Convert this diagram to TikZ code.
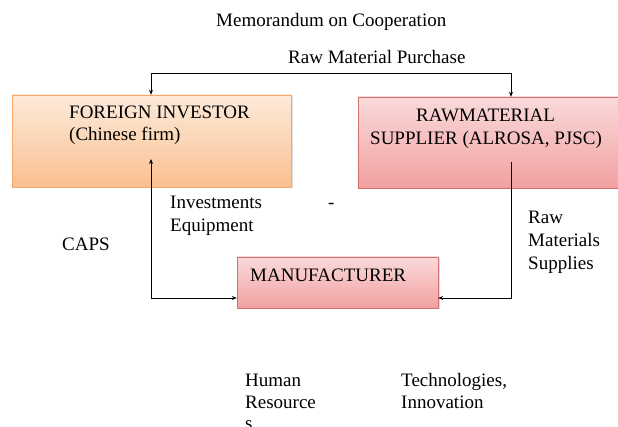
\documentclass[tikz,border=0pt]{standalone}
\usepackage{fontspec}
\setmainfont{Liberation Serif}
\usetikzlibrary{shadows,arrows.meta}
\definecolor{orbot}{HTML}{FAC090}
\definecolor{ortop}{HTML}{FDEADA}
\definecolor{orline}{HTML}{F9A86A}
\definecolor{pkbot}{HTML}{F2A0A0}
\definecolor{pktop}{HTML}{FADADA}
\definecolor{pkline}{HTML}{D07070}
\tikzset{
  txt/.style={anchor=base west, inner sep=0pt, font=\fontsize{19}{22}\selectfont},
  orbox/.style={draw=orline, line width=0.8pt, top color=ortop, bottom color=orbot, drop shadow={opacity=0.25, shadow xshift=1.5pt, shadow yshift=-1.5pt}},
  pkbox/.style={draw=pkline, line width=0.8pt, top color=pktop, bottom color=pkbot, drop shadow={opacity=0.25, shadow xshift=1.5pt, shadow yshift=-1.5pt}},
  conn/.style={draw=black, line width=0.8pt, -{Stealth[length=5pt,width=4pt]}},
  line/.style={draw=black, line width=0.8pt}
}
\begin{document}
\begin{tikzpicture}[x=1pt,y=-1pt]
\useasboundingbox (0,0) rectangle (618,427);
% boxes
\path[orbox] (12,95) rectangle (291,187);
\path[pkbox] (358,97) rectangle (625,188);
\path[pkbox] (237,257) rectangle (438,308);
\clip (0,0) rectangle (618,427);
\node (inv) [minimum width=279pt, minimum height=92pt, inner sep=0pt] at (151.5,141) {};
\node (sup) [minimum width=260pt, minimum height=91pt, inner sep=0pt] at (488,142.5) {};
\node (man) [minimum width=201pt, minimum height=51pt, inner sep=0pt] at (337.5,282.5) {};
% coordinates
\coordinate (tl) at (151,73);
\coordinate (tr) at (511,73);
\coordinate (invin) at (151,159);
\coordinate (lb) at (151,298);
\coordinate (supout) at (511,162);
\coordinate (rb) at (511,298);
% connectors
\draw[conn] (tl) -- (tr) -- (tr |- sup.north);
\draw[conn] (tr) -- (tl) -- (tl |- inv.north);
\draw[conn] (lb) -- (invin);
\draw[conn] (lb) -- (man.west |- lb);
\draw[conn] (supout) -- (rb) -- (man.east |- rb);
% texts
\node[txt] (t1) at (216,27) {Memorandum on Cooperation};
\node[txt] (t2) at (288,64) {Raw Material Purchase};
\node[txt] (t3) at (69,119) {FOREIGN INVESTOR};
\node[txt] (t4) at (69,141) {(Chinese firm)};
\node[txt] (t5) at (416,122) {RAWMATERIAL};
\node[txt] (t6) at (370,145) {SUPPLIER (ALROSA, PJSC)};
\node[txt] (t7) at (170,209) {Investments};
\node[txt] (t8) at (170,232) {Equipment};
\node[txt] (t9) at (328,209) {-};
\node[txt] (t10) at (62,251) {CAPS};
\node[txt] (t11) at (250,282) {MANUFACTURER};
\node[txt] (t12) at (528,224) {Raw};
\node[txt] (t13) at (528,247) {Materials};
\node[txt] (t14) at (528,270) {Supplies};
\node[txt] (t15) at (245,386) {Human};
\node[txt] (t16) at (245,408) {Resource};
\node[txt] (t17) at (245,429) {s};
\node[txt] (t18) at (401,386) {Technologies,};
\node[txt] (t19) at (401,408) {Innovation};
\end{tikzpicture}
\end{document}
